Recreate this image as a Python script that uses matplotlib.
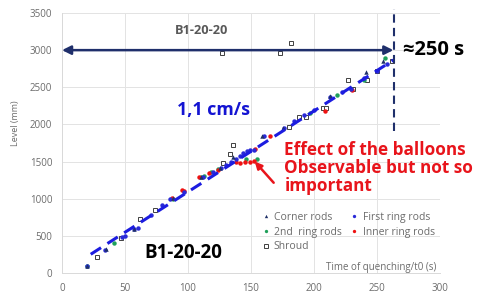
import matplotlib
matplotlib.use("Agg")
import matplotlib.pyplot as plt

plt.rcParams['font.family'] = ['Open Sans', 'DejaVu Sans']

# --- data -------------------------------------------------------------
corner_t = [20, 35, 57, 88, 110, 125, 136, 159, 175, 213, 241, 255]
corner_L = [100, 320, 590, 1010, 1290, 1420, 1560, 1845, 1950, 2380, 2700, 2860]

first_t = [20, 34, 48, 50, 57, 60, 71, 79, 86, 97, 112, 120, 126, 130, 134, 138,
           141, 144, 147, 149, 152, 160, 176, 184, 192, 200, 213, 222, 229, 240, 250, 258]
first_L = [100, 310, 480, 500, 590, 610, 780, 915, 990, 1090, 1290, 1360, 1410, 1460, 1500, 1540,
           1580, 1610, 1640, 1655, 1660, 1850, 1950, 2040, 2130, 2200, 2370, 2440, 2480, 2620, 2720, 2820]

second_t = [20, 41, 88, 110, 113, 118, 124, 146, 155, 197, 218, 229, 240, 256]
second_L = [100, 400, 1000, 1290, 1310, 1360, 1400, 1540, 1530, 2150, 2400, 2480, 2600, 2900]

inner_t = [87, 95, 97, 109, 117, 124, 138, 141, 145, 149, 152, 153, 165, 209, 230]
inner_L = [1010, 1120, 1110, 1290, 1350, 1390, 1490, 1480, 1490, 1500, 1510, 1665, 1850, 2180, 2470]

shroud_t = [28, 47, 62, 74, 127, 128, 133, 136, 173, 181.5, 180, 188, 194, 207, 209.5,
            227, 231, 242, 250, 261.6]
shroud_L = [220, 467, 722, 848, 2965, 1480, 1600, 1725, 2965, 3095, 1961, 2095, 2095, 2216, 2216,
            2600, 2472, 2600, 2715, 2850]

fit_t = [22.8, 263]
fit_L = [252, 2867]

xticks = [0, 50, 100, 150, 200, 250, 300]
yticks = [0, 500, 1000, 1500, 2000, 2500, 3000, 3500]

# --- figure -----------------------------------------------------------
W, H = 493, 294
fig = plt.figure(figsize=(W/100, H/100), dpi=100)
ax = fig.add_axes([62/W, 1-273/H, 378/W, 260/H])
ax.set_xlim(0, 300)
ax.set_ylim(0, 3500)
ax.set_xticks(xticks)
ax.set_yticks(yticks)
ax.tick_params(length=0, labelsize=7, colors='#6b6b6b', pad=7)
ax.grid(True, color='#e3e3e3', lw=0.7)
ax.set_axisbelow(True)
for s in ax.spines.values():
    s.set_color('#d9d9d9')
    s.set_linewidth(0.7)
ax.spines['top'].set_visible(False)
ax.spines['right'].set_visible(False)
ax.set_ylabel('Level (mm)', fontsize=6.5, color='#6b6b6b')
ax.yaxis.set_label_coords((20-62)/378, (273-123)/260)

ms = 3.2
ax.plot(shroud_t, shroud_L, ls='none', marker='s', ms=3.2, mfc='white', mec='#404040',
        mew=0.7, label='Shroud', zorder=3)
ax.plot(second_t, second_L, ls='none', marker='o', ms=ms, color='#1fa05a', mec='none',
        label='2nd  ring rods', zorder=4)
ax.plot(inner_t, inner_L, ls='none', marker='o', ms=ms, color='#ee1111', mec='none',
        label='Inner ring rods', zorder=4)
ax.plot(first_t, first_L, ls='none', marker='o', ms=ms, color='#2a2ad8', mec='none',
        label='First ring rods', zorder=4)
ax.plot(corner_t, corner_L, ls='none', marker='^', ms=ms, color='#1f3068', mec='none',
        label='Corner rods', zorder=4)

# fitted dashed line
ax.plot(fit_t, fit_L, ls=(0, (4, 2.5)), color='#1c1ce0', lw=2.2, zorder=5)

# horizontal double arrow
ax.annotate('', xy=(0, 3000), xytext=(263, 3000),
            arrowprops=dict(arrowstyle='<|-|>', color='#1f2f6b', lw=1.8,
                            mutation_scale=13, shrinkA=0, shrinkB=0),
            annotation_clip=False, zorder=6)
# vertical dashed line
ax.plot([263.5, 263.5], [1910, 3560], ls=(0, (4, 2.5)), color='#1f2f6b', lw=1.5,
        clip_on=False, zorder=6)

# red arrow
ax.annotate('', xy=(153, 1500), xytext=(168, 1215),
            arrowprops=dict(arrowstyle='-|>', color='#e8141b', lw=1.8,
                            mutation_scale=10, shrinkA=0, shrinkB=0), zorder=7)

# texts
ax.text(111, 3260, 'B1-20-20', fontsize=9.2, fontweight='bold', color='#595959',
        ha='center', va='center')
ax.text(91.5, 2190, '1,1 cm/s', fontsize=12.8, fontweight='bold', color='#1414d2',
        ha='left', va='center')
ax.text(176.5, 1413, 'Effect of the balloons\nObservable but not so\nimportant',
        fontsize=12.3, fontweight='bold', color='#e8141b', ha='left', va='center',
        linespacing=1.0)
ax.text(65.5, 270, 'B1-20-20', fontsize=13.5, fontweight='bold', color='black',
        ha='left', va='center')
ax.text(297, 80, 'Time of quenching/t0 (s)', fontsize=7, color='#6b6b6b',
        ha='right', va='center')
fig.text(403/W, 1-50/H, '≈250 s', fontsize=14.5, fontweight='bold', color='black',
         ha='left', va='center')

handles, labels = ax.get_legend_handles_labels()
hmap = dict(zip(labels, handles))
leg_order = ['Corner rods', '2nd  ring rods', 'Shroud', 'First ring rods', 'Inner ring rods']
leg = fig.legend([hmap[l] for l in leg_order], leg_order, ncol=2, loc='upper left',
                 bbox_to_anchor=(262.5/W, 1-212/H), fontsize=7.5, frameon=False,
                 handlelength=0.6, handletextpad=0.5, columnspacing=0.9,
                 labelspacing=0.35, markerscale=0.75, borderpad=0, borderaxespad=0)
for t in leg.get_texts():
    t.set_color('#6b6b6b')

fig.savefig('out.png', dpi=100)
